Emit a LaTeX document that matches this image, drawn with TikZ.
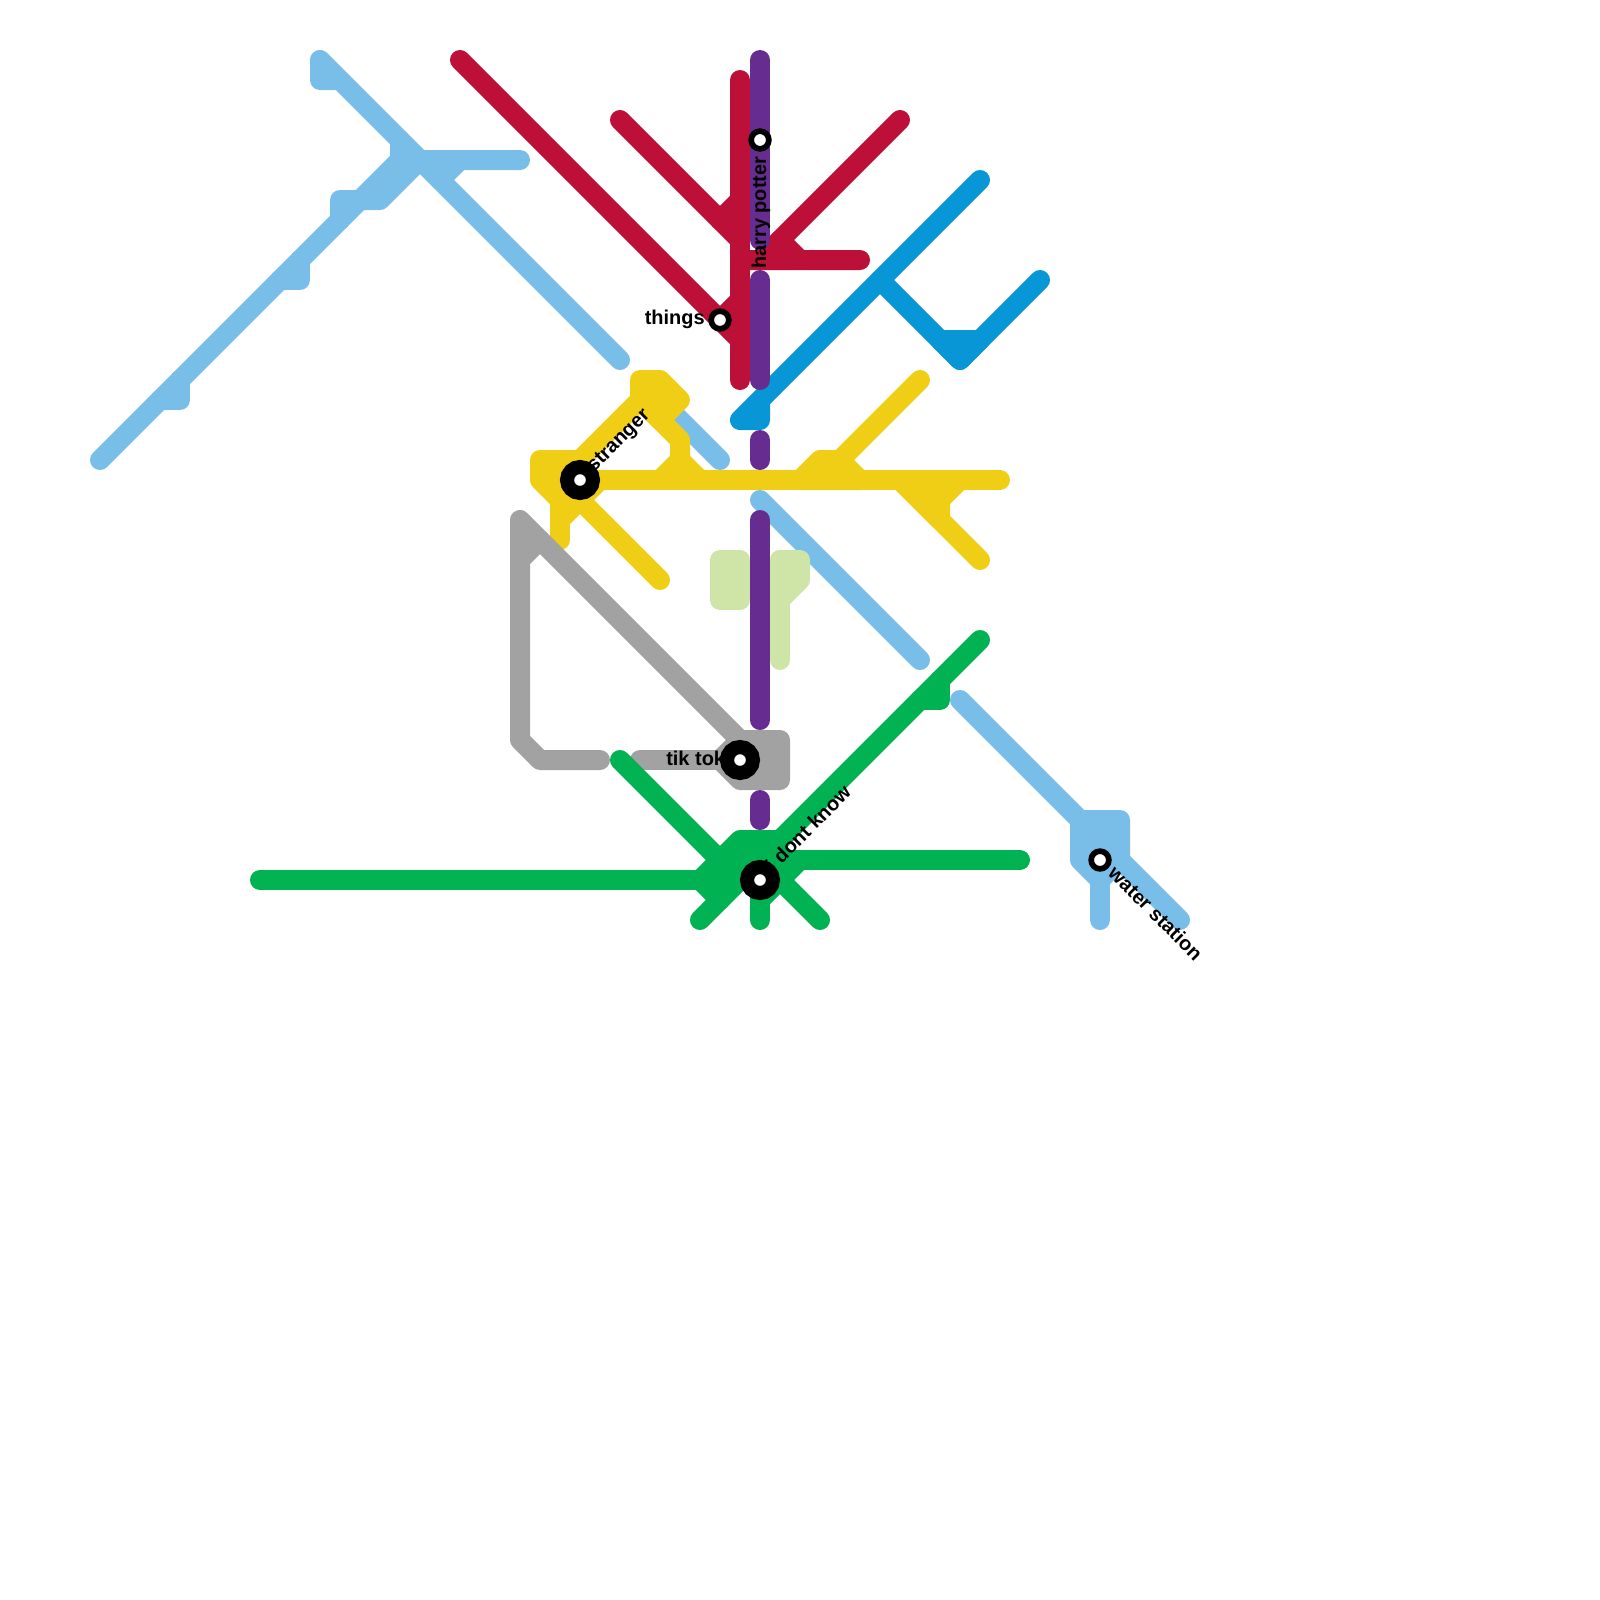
\documentclass[tikz,border=0pt]{standalone}
\usepackage{fontspec}
\setmainfont{Liberation Sans}
\definecolor{skyline}{HTML}{79BDE9}
\definecolor{crimsonline}{HTML}{BD1038}
\definecolor{purpleline}{HTML}{662C90}
\definecolor{blueline}{HTML}{0896D7}
\definecolor{yellowline}{HTML}{F0CE15}
\definecolor{greyline}{HTML}{A2A2A2}
\definecolor{greenline}{HTML}{00B251}
\definecolor{paleline}{HTML}{CFE5A7}
\tikzset{
    metro/.style={line width=0.5cm, line cap=round, line join=round},
    bigstop/.style={circle, draw=black, fill=white, inner sep=0pt, line width=0.35cm, minimum size=0.65cm},
    smallstop/.style={circle, draw=black, fill=white, inner sep=0pt, line width=0.1425cm, minimum size=0.4425cm},
    stoplabel/.style={text=black, inner sep=0pt, font=\fontsize{14.2}{14.2}\selectfont\bfseries}
}
\begin{document}
\begin{tikzpicture}[x=0.5cm, y=-0.5cm]
        \useasboundingbox (0,0) rectangle (80,80);

        % Light blue line
        \draw[metro, skyline] (17,4) -- (16,4) -- (16,3) -- (31,18);
        \draw[metro, skyline] (33,20) -- (36,23);
        \draw[metro, skyline] (38,25) -- (46,33);
        \draw[metro, skyline] (48,35) -- (59,46);
        \draw[metro, skyline] (5,23) -- (20,8) -- (20,7);
        \draw[metro, skyline] (17,11) -- (17,10) -- (19,10) -- (21,8) -- (26,8);
        \draw[metro, skyline] (20,8) -- (23,8) -- (22,9);
        % Short stubs along the branch
        \foreach \x/\y in {15/14, 9/20} {
            \draw[metro, skyline] (\x,\y-1) -- (\x,\y) -- (\x-1,\y);
        }
        \filldraw[metro, skyline] (54,41) -- (56,41) -- (56,43) -- (55,44) -- (54,43) -- cycle;
        \draw[metro, skyline] (55,43) -- (55,46);

        % Pale green line
        \filldraw[metro, paleline] (36,28) -- (37,28) -- (37,30) -- (36,30) -- cycle;
        \filldraw[metro, paleline] (39,28) -- (40,28) -- (40,29) -- (39,30) -- cycle;
        \draw[metro, paleline] (39,28) -- (39,33);

        % Crimson line
        \draw[metro, crimsonline] (37,4) -- (37,19);
        \draw[metro, crimsonline] (23,3) -- (37,17);
        \draw[metro, crimsonline] (31,6) -- (37,12);
        \draw[metro, crimsonline] (36,11) -- (37,10);
        \draw[metro, crimsonline] (36,16) -- (37,15);
        \draw[metro, crimsonline] (45,6) -- (38,13) -- (37,13) -- (43,13);
        \draw[metro, crimsonline] (39,12) -- (40,13);

        % Blue line
        \draw[metro, blueline] (49,9) -- (37,21) -- (38,21) -- (38,20);
        \draw[metro, blueline] (44,14) -- (48,18) -- (52,14);
        \filldraw[metro, blueline] (47,17) -- (49,17) -- (48,18) -- cycle;

        % Yellow line
        \draw[metro, yellowline] (29,24) -- (50,24);
        \filldraw[metro, yellowline] (27,23) -- (29,23) -- (29,25) -- (28,25) -- (27,24) -- cycle;
        \draw[metro, yellowline] (28,24) -- (28,27);
        \draw[metro, yellowline] (28,26) -- (30,24);
        \draw[metro, yellowline] (28,24) -- (33,29);
        \draw[metro, yellowline] (28,24) -- (32,20);
        \filldraw[metro, yellowline] (32,19) -- (33,19) -- (34,20) -- (33,21) -- (32,20) -- cycle;
        \draw[metro, yellowline] (32,20) -- (34,22) -- (34,23);
        \draw[metro, yellowline] (33,24) -- (34,23) -- (35,24);
        \draw[metro, yellowline] (46,19) -- (41,24);
        \filldraw[metro, yellowline] (41,23) -- (42,23) -- (43,24) -- (40,24) -- cycle;
        \draw[metro, yellowline] (45,24) -- (49,28);
        \filldraw[metro, yellowline] (45,24) -- (48,24) -- (47,25) -- (47,26) -- cycle;

        % Grey line
        \draw[metro, greyline] (30,38) -- (27,38) -- (26,37) -- (26,26) -- (37,37);
        \draw[metro, greyline] (26,28) -- (27,27);
        \draw[metro, greyline] (32,38) -- (37,38);
        \filldraw[metro, greyline] (37,37) -- (39,37) -- (39,39) -- (37,39) -- (36,38) -- cycle;

        % Green line
        \draw[metro, greenline] (13,44) -- (38,44);
        \draw[metro, greenline] (31,38) -- (37,44);
        \draw[metro, greenline] (35,44) -- (36,45);
        \draw[metro, greenline] (35,46) -- (49,32);
        \draw[metro, greenline] (47,34) -- (47,35) -- (46,35);
        \filldraw[metro, greenline] (35,44) -- (37,42) -- (39,42) -- (38,44) -- (36,44) -- cycle;
        \draw[metro, greenline] (38,44) -- (38,46);
        \draw[metro, greenline] (38,43) -- (41,46);
        \draw[metro, greenline] (38,43) -- (51,43);
        \draw[metro, greenline] (38,45) -- (40,43);

        % Purple line
        \foreach \ya/\yb in {3/12, 14/19, 22/23, 26/36, 40/41} {
            \draw[metro, purpleline] (38,\ya) -- (38,\yb);
        }

        % Labels
        \node[stoplabel, anchor=base east] (thingslabel) at (35.25,16.22) {things};
        \node[stoplabel, anchor=base west, rotate=90] (potterlabel) at (38.3,13.45) {harry potter};
        \node[stoplabel, anchor=base west, rotate=45] (strangerlabel) at (29.7,23.65) {stranger};
        \node[stoplabel, anchor=base west] (tiktoklabel) at (33.3,38.25) {tik tok};
        \node[stoplabel, anchor=base west, rotate=45] (dontknowlabel) at (38.68,43.62) {i dont know};
        \node[stoplabel, anchor=base west, rotate=-45] (waterlabel) at (55.35,43.72) {water station};

        % Stops
        \node[smallstop] (potter) at (38,7) {};
        \node[smallstop] (things) at (36,16) {};
        \node[bigstop] (stranger) at (29,24) {};
        \node[bigstop] (tiktok) at (37,38) {};
        \node[bigstop] (dontknow) at (38,44) {};
        \node[smallstop] (water) at (55,43) {};

    \end{tikzpicture}
\end{document}
